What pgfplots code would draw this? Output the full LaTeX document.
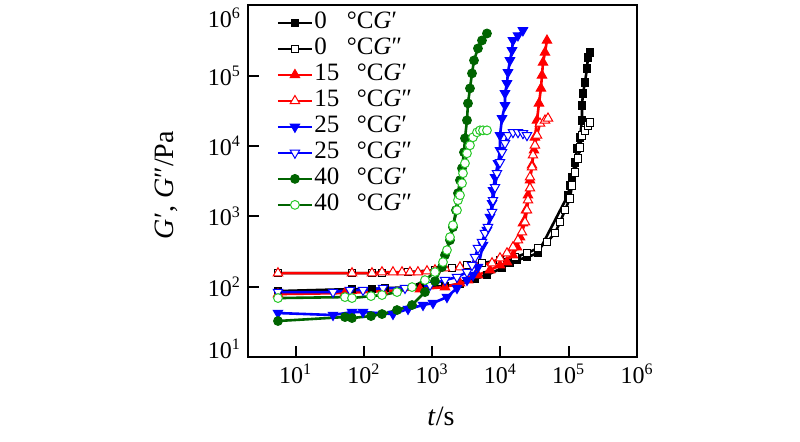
\documentclass[border=0pt]{standalone}
\usepackage{fontspec}
\setmainfont{Liberation Serif}
\usepackage{pgfplots}
\pgfplotsset{compat=1.18}
\definecolor{dgreen}{RGB}{0,100,0}
\definecolor{lgreen}{RGB}{40,200,40}
\pgfplotsset{
 base/.style={line width=1.3pt},
 s0f/.style={base, black, mark=square*, mark size=1.9pt, mark options={solid, line width=0.5pt, fill=black}},
 s0o/.style={base, black, mark=square*, mark size=1.9pt, mark options={solid, line width=0.5pt, fill=white, draw=black}},
 s15f/.style={base, red, mark=triangle*, mark size=2.7pt, mark options={solid, line width=0.5pt, fill=red}},
 s15o/.style={base, red, mark=triangle*, mark size=2.7pt, mark options={solid, line width=0.5pt, fill=white, draw=red}},
 s25f/.style={base, blue, mark=triangle*, mark size=2.7pt, mark options={solid, rotate=180, line width=0.5pt, fill=blue}},
 s25o/.style={base, blue, mark=triangle*, mark size=2.7pt, mark options={solid, rotate=180, line width=0.5pt, fill=white, draw=blue}},
 s40f/.style={base, dgreen, mark=*, mark size=2.2pt, mark options={solid, line width=0.5pt, fill=dgreen}},
 s40o/.style={base, dgreen, mark=*, mark size=2.2pt, mark options={solid, line width=0.5pt, fill=white, draw=lgreen}},
}
\begin{document}
\begin{tikzpicture}
\begin{axis}[
  at={(124pt,42.5pt)}, anchor=south west,
  scale only axis, width=194.5pt, height=175.75pt,
  xmode=log, ymode=log,
  xmin=2, xmax=1e6, ymin=10, ymax=1e6,
  xtick={10,100,1000,10000,100000,1000000},
  xticklabels={10\textsuperscript{1},10\textsuperscript{2},10\textsuperscript{3},10\textsuperscript{4},10\textsuperscript{5},10\textsuperscript{6}},
  ytick={10,100,1000,10000,100000,1000000},
  yticklabels={\raisebox{4pt}[\height][\depth]{10\textsuperscript{1}},10\textsuperscript{2},10\textsuperscript{3},10\textsuperscript{4},10\textsuperscript{5},\raisebox{-6pt}[\height][\depth]{10\textsuperscript{6}}},
  xminorticks=false, yminorticks=false,
  tick align=inside, tick pos=left,
  major tick length=5.5pt,
  axis line style={line width=1pt},
  every tick/.style={line width=1pt, black},
  ticklabel style={font=\fontsize{12}{14}\selectfont},
  xlabel={\textit{t}/s}, ylabel={\textit{G}′, \textit{G}″/Pa},
  label style={font=\fontsize{14}{16}\selectfont},
  xlabel style={at={(rel axis cs:0.496,0)}, anchor=center, yshift=-29.5pt},
  ylabel style={at={(rel axis cs:0,0.489)}, anchor=center, yshift=41pt},
  legend cell align=left,
  legend style={draw=none, fill=none, at={(rel axis cs:0.057,1.0)}, anchor=north west,
    font=\fontsize{12.5}{13}\selectfont, row sep=0pt,
    nodes={inner sep=0.5pt, text height=9pt, text depth=3pt}},
]
\addplot[s0f] coordinates {
(5.50,86.6) (66.8,92.5) (131,92.5) (203,95.5) (662,98.7) (1538,102) (2551,108.9)
(4236,128.2) (6339,146.2) (10520,183.8) (13770,216.3) (17460,238.6) (24430,263.2)
(35400,299.9) (97500,2000) (104300,2776) (111600,3605) (123300,5890) (132100,9310)
(146200,13330) (156300,23250) (156300,38000) (161800,56230) (173000,80600)
(184900,127400) (191400,182400) (204700,215100)};
\addlegendentry{0\hspace{0.8em}°C\textit{G}′}
\addplot[s0o] coordinates {
(5.50,156.1) (66.8,156.1) (131,156.1) (183.7,156.1) (442,161.3) (1097,172.2)
(1949,183.8) (3230,202.6) (5358,216.3) (9840,238.6) (16290,263.2) (24430,299.9)
(35400,353.6) (47970,430.1) (62950,577.1) (74470,826.7) (88100,1225) (104300,1814)
(111600,2776) (123300,4246) (136500,6712) (146200,9622) (156300,14230)
(173000,16760) (191400,19740) (204700,21780)};
\addlegendentry{0\hspace{0.8em}°C\textit{G}″}
\addplot[s15f] coordinates {
(5.50,78.5) (52.7,81.1) (190,86.6) (662,92.5) (1538,98.7) (2551,112.5) (3342,124.1)
(4677,146.2) (7015,172.2) (9840,202.6) (12450,223.5) (15240,281) (17460,365.2)
(19320,506.8) (21330,800) (23610,1225) (25290,2000) (27040,3268) (28970,5339)
(30970,8721) (31990,13330) (34280,23250) (36640,40560) (39170,66240)
(40550,101300) (41980,154900) (44870,215100) (47970,318200)};
\addlegendentry{15\hspace{0.7em}°C\textit{G}′}
\addplot[s15o] coordinates {
(5.50,156.1) (66.8,156.1) (131,156.1) (183.7,161.3) (266,161.3) (361,161.3)
(472,161.3) (618,161.3) (838,166.7) (1097,172.2) (1538,183.8) (2551,189.9)
(4236,202.6) (7516,216.3) (9840,254.7) (12450,299.9) (15240,365.2) (18030,459)
(20650,596.1) (22860,826.7) (24430,1225) (25290,1699) (27040,2518) (27040,3605)
(28970,5002) (29920,7405) (31990,10260) (34280,14230) (37930,21070)
(44870,23250) (49660,24820)};
\addlegendentry{15\hspace{0.7em}°C\textit{G}″}
\addplot[s25f] coordinates {
(5.50,42.2) (35.2,39.5) (66.8,43.6) (96.8,43.6) (266,40.8) (442,48.1) (733,54.8)
(1026,58.5) (1644,71.1) (2305,95.5) (3230,124.1) (3955,146.2) (4677,189.9)
(5546,390) (6339,636.2) (7015,974.2) (7516,1540) (7762,2357) (8318,3605)
(9183,5699) (9840,8721) (9840,14230) (10520,24820) (11640,38000) (11640,56230)
(12450,77980) (12880,111800) (13770,165400) (14750,229600) (15240,318200)
(18030,374700) (21330,441700)};
\addlegendentry{25\hspace{0.7em}°C\textit{G}′}
\addplot[s25o] coordinates {
(5.50,83.8) (35.2,83.8) (62.4,89.5) (96.8,89.5) (190,95.5) (399,95.5) (927,105.4)
(1538,124.1) (2305,136.9) (3230,161.3) (3828,202.6) (4236,263.2) (4677,353.6)
(5358,430.1) (5929,577.1) (6561,702.1) (7516,1147) (7762,1699) (8318,2601)
(8892,4108) (9840,5890) (10520,8170) (11640,10960) (12880,14230) (15240,15700)
(18030,15700) (21330,15190) (24430,14230)};
\addlegendentry{25\hspace{0.7em}°C\textit{G}″}
\addplot[s40f] coordinates {
(5.50,32.5) (52.7,37.0) (66.8,35.8) (126.8,38.2) (183.7,40.8) (305,46.5) (506,54.8)
(783,83.8) (1097,120.1) (1390,189.9) (1538,281) (1820,459) (2014,702.1)
(2230,1225) (2384,2136) (2551,3268) (2731,4839) (2919,8170) (3019,12900)
(3230,23250) (3342,40560) (3573,66240) (3828,108200) (4093,165400)
(4677,245100) (5358,318200) (6339,400000)};
\addlegendentry{40\hspace{0.7em}°C\textit{G}′}
\addplot[s40o] coordinates {
(5.50,68.9) (52.7,71.1) (66.8,68.9) (126.8,73.5) (183.7,76.0) (305,83.8) (506,98.7)
(783,124.1) (1097,161.3) (1438,223.5) (1644,331.3) (1820,506.8) (2014,749.5)
(2305,1225) (2384,1699) (2551,2000) (2731,2963) (2823,4108) (3019,5699)
(3230,7904) (3573,10260) (3955,13330) (4529,15700) (5012,16760) (5546,16760)
(6339,16760)};
\addlegendentry{40\hspace{0.7em}°C\textit{G}″}
\end{axis}
\pgfresetboundingbox
\useasboundingbox (0,0) rectangle (400pt,221pt);
\end{tikzpicture}
\end{document}
